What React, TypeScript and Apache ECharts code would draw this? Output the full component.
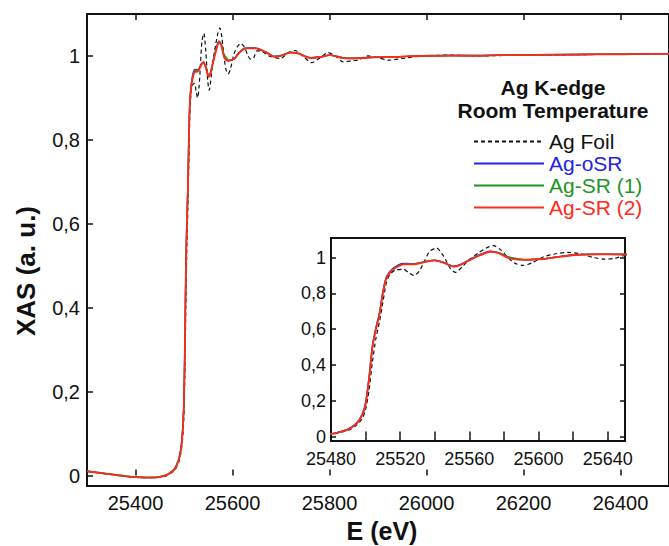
import React, { useEffect, useRef } from "react";
import * as echarts from "echarts";

// ---- data ----
const sampleEnergy = [
  25300, 25320, 25340, 25360, 25380, 25400, 25420, 25440, 25460, 25470,
  25480, 25485, 25490, 25495, 25498, 25500, 25502, 25504, 25506, 25508,
  25510, 25512, 25514, 25516, 25519, 25522, 25526, 25530, 25535, 25540,
  25545, 25551, 25555, 25560, 25566, 25572, 25577, 25582, 25587, 25592,
  25598, 25604, 25612, 25621, 25630, 25640, 25650, 25670, 25686, 25700,
  25719, 25735, 25760, 25780, 25801, 25828, 25850, 25870, 25900, 25930,
  25960, 26000, 26050, 26100, 26150, 26200, 26250, 26300, 26350, 26400,
  26450, 26500,
];
const agSR2 = [
  0.010, 0.007, 0.004, 0.001, -0.002, -0.004, -0.005, -0.005, -0.001, 0.005,
  0.014, 0.025, 0.040, 0.074, 0.120, 0.180, 0.320, 0.500, 0.600, 0.680,
  0.800, 0.885, 0.915, 0.935, 0.952, 0.962, 0.962, 0.965, 0.977, 0.985,
  0.972, 0.950, 0.960, 0.985, 1.012, 1.033, 1.025, 1.000, 0.990, 0.988,
  0.990, 0.993, 1.005, 1.015, 1.018, 1.018, 1.018, 1.008, 0.998, 1.000,
  1.008, 1.006, 0.995, 0.997, 1.002, 0.995, 0.994, 0.995, 0.997, 0.997,
  0.999, 1.000, 1.001, 1.000, 1.002, 1.002, 1.003, 1.003, 1.004, 1.004,
  1.005, 1.005,
];
const agOSR = [
  0.010, 0.007, 0.004, 0.001, -0.002, -0.004, -0.005, -0.005, -0.001, 0.005,
  0.015, 0.026, 0.042, 0.078, 0.125, 0.188, 0.330, 0.510, 0.610, 0.690,
  0.810, 0.892, 0.922, 0.942, 0.960, 0.968, 0.967, 0.968, 0.979, 0.986,
  0.974, 0.952, 0.962, 0.988, 1.017, 1.036, 1.027, 1.002, 0.991, 0.989,
  0.991, 0.994, 1.006, 1.016, 1.019, 1.019, 1.018, 1.008, 0.999, 1.001,
  1.008, 1.006, 0.996, 0.997, 1.002, 0.995, 0.994, 0.996, 0.997, 0.998,
  0.999, 1.000, 1.001, 1.001, 1.002, 1.002, 1.003, 1.003, 1.004, 1.004,
  1.005, 1.005,
];
const agSR1 = [
  0.011, 0.008, 0.005, 0.002, -0.001, -0.003, -0.004, -0.004, 0.000, 0.006,
  0.015, 0.026, 0.041, 0.076, 0.122, 0.184, 0.325, 0.505, 0.605, 0.685,
  0.805, 0.888, 0.918, 0.938, 0.955, 0.964, 0.965, 0.969, 0.978, 0.985,
  0.973, 0.951, 0.961, 0.986, 1.014, 1.034, 1.028, 1.006, 0.996, 0.990,
  0.991, 0.994, 1.006, 1.016, 1.018, 1.019, 1.018, 1.009, 0.999, 1.001,
  1.009, 1.007, 0.996, 0.998, 1.002, 0.996, 0.995, 0.996, 0.997, 0.998,
  0.999, 1.001, 1.001, 1.001, 1.002, 1.003, 1.003, 1.004, 1.004, 1.005,
  1.005, 1.005,
];
const foilEnergy = [
  25300, 25340, 25380, 25420, 25460, 25480, 25490, 25495, 25498, 25500,
  25502, 25504, 25506, 25508, 25510, 25512, 25514, 25517, 25522, 25525,
  25528, 25531, 25534, 25537, 25541, 25545, 25549, 25552, 25556, 25560,
  25565, 25570, 25574, 25578, 25582, 25586, 25591, 25596, 25603, 25610,
  25617, 25625, 25632, 25638, 25644, 25650, 25658, 25675, 25699, 25715,
  25729, 25745, 25763, 25780, 25797, 25812, 25828, 25845, 25858, 25879,
  25900, 25922, 25950, 25990, 26050, 26100, 26200, 26300, 26400, 26500,
];
const agFoil = [
  0.010, 0.004, -0.002, -0.005, -0.002, 0.012, 0.035, 0.065, 0.100, 0.150,
  0.260, 0.420, 0.550, 0.640, 0.750, 0.860, 0.905, 0.930, 0.935, 0.915,
  0.900, 0.925, 0.980, 1.035, 1.054, 1.010, 0.940, 0.918, 0.950, 0.990,
  1.025, 1.055, 1.067, 1.045, 1.005, 0.970, 0.957, 0.970, 1.005, 1.022,
  1.030, 1.020, 1.000, 0.992, 0.996, 1.012, 1.012, 1.000, 0.994, 1.008,
  1.013, 1.000, 0.984, 0.995, 1.008, 1.000, 0.986, 0.988, 0.990, 1.000,
  0.996, 0.990, 0.994, 1.000, 1.002, 1.000, 1.002, 1.003, 1.004, 1.005,
];

const mainXTicks = [25400, 25600, 25800, 26000, 26200, 26400];
const insetXTicks = [25480, 25500, 25520, 25540, 25560, 25580, 25600, 25620, 25640];
const insetXLabels = [25480, 25520, 25560, 25600, 25640];
const yTicks = [0, 0.2, 0.4, 0.6, 0.8, 1];

const seriesNames = ["Ag Foil", "Ag-oSR", "Ag-SR (1)", "Ag-SR (2)"];
const seriesColors = ["#111111", "#2424e0", "#1f951f", "#ff2a1a"];

const FONT = "Arial, 'Liberation Sans', Helvetica, sans-serif";

const yFmt = (v: number) => String(v).replace(".", ",");
const xFmt = (v: number) => String(v);

export default function App() {
  const ref = useRef<HTMLDivElement>(null);
  useEffect(() => {
    if (!ref.current) return;
    const chart = echarts.init(ref.current, undefined, { renderer: "svg" });

    const pairs = (xs: number[], ys: number[]) => xs.map((x, i) => [x, ys[i]]);
    const curves = [
      pairs(foilEnergy, agFoil),
      pairs(sampleEnergy, agOSR),
      pairs(sampleEnergy, agSR1),
      pairs(sampleEnergy, agSR2),
    ];
    const widths = [1.2, 1.4, 1.4, 1.8];

    const mkSeries = (xi: number, yi: number) =>
      curves.map((d, i) => ({
        type: "line",
        name: seriesNames[i],
        xAxisIndex: xi,
        yAxisIndex: yi,
        data: d,
        showSymbol: false,
        symbol: "none",
        smooth: 0.25,
        clip: true,
        z: 3 + i,
        lineStyle: {
          color: seriesColors[i],
          width: widths[i],
          type: i === 0 ? [4, 3] : "solid",
        },
        itemStyle: { color: seriesColors[i] },
        emphasis: { disabled: true },
      }));

    const tickStyle = { color: "#111", width: 1.5 };

    chart.setOption({
      animation: false,
      backgroundColor: "#fff",
      textStyle: { fontFamily: FONT },
      grid: [
        {
          left: 87,
          top: 14,
          right: -9,
          bottom: 60,
          show: true,
          borderColor: "#111",
          borderWidth: 2,
          backgroundColor: "#fff",
        },
        {
          left: 331,
          top: 238,
          width: 294,
          height: 203,
          show: true,
          borderColor: "#111",
          borderWidth: 2,
          backgroundColor: "#fff",
        },
      ],
      xAxis: [
        {
          gridIndex: 0,
          type: "value",
          min: 25300,
          max: 26500,
          position: "bottom",
          axisLine: { show: false },
          splitLine: { show: false },
          axisTick: { inside: true, length: 6, lineStyle: tickStyle, customValues: mainXTicks },
          axisLabel: {
            customValues: mainXTicks,
            formatter: xFmt,
            color: "#111",
            fontSize: 20,
            fontFamily: FONT,
            margin: 7,
          },
        },
        {
          gridIndex: 0,
          type: "value",
          min: 25300,
          max: 26500,
          position: "top",
          axisLine: { show: false },
          splitLine: { show: false },
          axisTick: { inside: true, length: 6, lineStyle: tickStyle, customValues: mainXTicks },
          axisLabel: { show: false },
        },
        {
          gridIndex: 1,
          type: "value",
          min: 25480,
          max: 25650,
          position: "bottom",
          axisLine: { show: false },
          splitLine: { show: false },
          axisTick: { inside: true, length: 5, lineStyle: tickStyle, customValues: insetXTicks },
          axisLabel: {
            customValues: insetXLabels,
            formatter: xFmt,
            color: "#111",
            fontSize: 18,
            fontFamily: FONT,
            margin: 9,
          },
        },
        {
          gridIndex: 1,
          type: "value",
          min: 25480,
          max: 25650,
          position: "top",
          axisLine: { show: false },
          splitLine: { show: false },
          axisTick: { inside: true, length: 5, lineStyle: tickStyle, customValues: insetXTicks },
          axisLabel: { show: false },
        },
      ],
      yAxis: [
        {
          gridIndex: 0,
          type: "value",
          min: -0.025,
          max: 1.1,
          position: "left",
          axisLine: { show: false },
          splitLine: { show: false },
          axisTick: { inside: true, length: 6, lineStyle: tickStyle, customValues: yTicks },
          axisLabel: {
            customValues: yTicks,
            formatter: yFmt,
            color: "#111",
            fontSize: 20,
            fontFamily: FONT,
            margin: 7,
          },
        },
        {
          gridIndex: 1,
          type: "value",
          min: -0.025,
          max: 1.11,
          position: "left",
          axisLine: { show: false },
          splitLine: { show: false },
          axisTick: { inside: true, length: 5, lineStyle: tickStyle, customValues: yTicks },
          axisLabel: {
            customValues: yTicks,
            formatter: yFmt,
            color: "#111",
            fontSize: 18,
            fontFamily: FONT,
            margin: 5,
          },
        },
        {
          gridIndex: 1,
          type: "value",
          min: -0.025,
          max: 1.11,
          position: "right",
          axisLine: { show: false },
          splitLine: { show: false },
          axisTick: { inside: true, length: 5, lineStyle: tickStyle, customValues: yTicks },
          axisLabel: { show: false },
        },
      ],
      legend: {
        orient: "vertical",
        left: 473,
        top: 131,
        padding: 0,
        itemWidth: 70,
        itemHeight: 14,
        itemGap: 1,
        selectedMode: false,
        itemStyle: { opacity: 0 },
        data: seriesNames.map((n, i) => ({
          name: n,
          textStyle: { color: seriesColors[i], fontSize: 21, fontFamily: FONT },
        })),
      },
      graphic: [
        {
          type: "text",
          x: 553,
          y: 87,
          style: {
            text: "Ag K-edge",
            font: `bold 21px ${FONT}`,
            fill: "#111",
            align: "center",
            verticalAlign: "middle",
          },
        },
        {
          type: "text",
          x: 553,
          y: 110,
          style: {
            text: "Room Temperature",
            font: `bold 21px ${FONT}`,
            fill: "#111",
            align: "center",
            verticalAlign: "middle",
          },
        },
        {
          type: "text",
          x: 26,
          y: 271,
          rotation: Math.PI / 2,
          style: {
            text: "XAS (a. u.)",
            font: `bold 26px ${FONT}`,
            fill: "#111",
            align: "center",
            verticalAlign: "middle",
          },
        },
        {
          type: "text",
          x: 382,
          y: 531,
          style: {
            text: "E (eV)",
            font: `bold 25px ${FONT}`,
            fill: "#111",
            align: "center",
            verticalAlign: "middle",
          },
        },
      ],
      series: [...mkSeries(0, 0), ...mkSeries(2, 1)],
    });

    return () => chart.dispose();
  }, []);

  return (
    <div
      ref={ref}
      style={{ position: "fixed", left: 0, top: 0, width: 669, height: 546, background: "#fff" }}
    />
  );
}
